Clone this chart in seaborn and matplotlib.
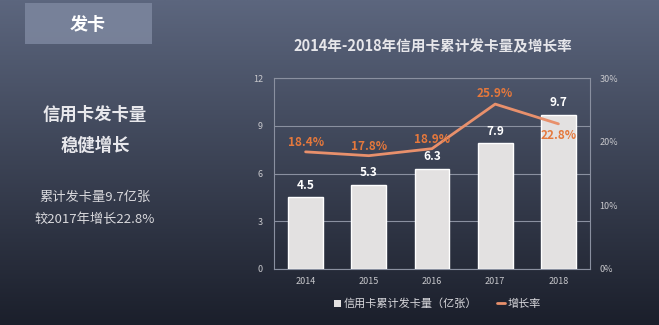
import numpy as np
import pandas as pd
import matplotlib
matplotlib.use("Agg")
import matplotlib.pyplot as plt
from matplotlib.patches import Rectangle
from matplotlib.lines import Line2D
from matplotlib.patches import Patch
import seaborn as sns

years = ["2014", "2015", "2016", "2017", "2018"]
cards = [4.5, 5.3, 6.3, 7.9, 9.7]
growth = [18.4, 17.8, 18.9, 25.9, 22.8]
left_ticks = [0, 3, 6, 9, 12]
right_ticks = [0, 10, 20, 30]

sns.set_theme(style="white")
plt.rcParams['font.family'] = ['Noto Sans CJK SC', 'DejaVu Sans']

W, H = 659, 325
fig = plt.figure(figsize=(W / 100, H / 100), dpi=100)

# background gradient
bg = fig.add_axes([0, 0, 1, 1])
top = np.array([0x5c, 0x66, 0x7e]) / 255
bot = np.array([0x1b, 0x1f, 0x2b]) / 255
t = np.linspace(0, 1, 200)[:, None]
grad = (top[None, :] * (1 - t) + bot[None, :] * t)
grad = np.repeat(grad[:, None, :], 2, axis=1)
bg.imshow(grad, aspect="auto", extent=[0, 1, 0, 1], origin="upper")
bg.set_xlim(0, 1)
bg.set_ylim(0, 1)
bg.axis("off")

# header box
bg.add_patch(Rectangle((25 / W, 1 - 44 / H), 127 / W, 41 / H,
                       facecolor="#7b859d", edgecolor="none", alpha=0.9))
bg.text(88 / W, 1 - 24 / H, "发卡", color="white", fontsize=13,
        fontweight="bold", ha="center", va="center")

# left text
bg.text(95 / W, 1 - 115 / H, "信用卡发卡量", color="#e8e8ec", fontsize=12.5,
        fontweight="bold", ha="center", va="center")
bg.text(95 / W, 1 - 146 / H, "稳健增长", color="#e8e8ec", fontsize=12.5,
        fontweight="bold", ha="center", va="center")
bg.text(95 / W, 1 - 197 / H, "累计发卡量9.7亿张", color="#d8d8dc", fontsize=9.5,
        ha="center", va="center")
bg.text(95 / W, 1 - 219 / H, "较2017年增长22.8%", color="#d8d8dc", fontsize=9.5,
        ha="center", va="center")

# chart title
bg.text(433 / W, 1 - 46 / H, "2014年-2018年信用卡累计发卡量及增长率", color="#e6e6ea",
        fontsize=10.5, fontweight="bold", ha="center", va="center")

df = pd.DataFrame({"year": years, "cards": cards, "growth": growth})

ax = fig.add_axes([274 / W, 1 - 269 / H, 316 / W, 191 / H])
ax.set_facecolor("none")
sns.barplot(data=df, x="year", y="cards", color="#e3e1e1", width=0.55,
            saturation=1, ax=ax, zorder=3)
ax.set_ylim(0, 12)
ax.set_xlim(-0.5, 4.5)
ax.set_yticks(left_ticks)
ax.set_yticklabels([str(v) for v in left_ticks])
ax.grid(axis="y", color="#8a90a0", linewidth=0.8, zorder=0)
ax.set_axisbelow(True)
for s in ax.spines.values():
    s.set_color("#8a90a0")
    s.set_linewidth(0.8)
ax.tick_params(axis="both", colors="#c8c8cc", labelsize=6.5, length=0, pad=8)
ax.tick_params(axis="x", pad=6)
ax.set_xlabel("")
ax.set_ylabel("")
for i, v in enumerate(cards):
    ax.text(i, v + 0.35, f"{v:.1f}", color="white", fontsize=8.5,
            fontweight="bold", ha="center", va="bottom", zorder=5)

ax2 = ax.twinx()
ax2.set_facecolor("none")
sns.lineplot(data=df, x="year", y="growth", color="#e8906c", linewidth=2,
             ax=ax2, zorder=4, sort=False)
ax2.set_ylim(0, 30)
ax2.set_yticks(right_ticks)
ax2.set_yticklabels([f"{v}%" for v in right_ticks])
ax2.tick_params(axis="y", colors="#c8c8cc", labelsize=6.5, length=0, pad=7)
ax2.set_ylabel("")
for s in ax2.spines.values():
    s.set_visible(False)
offsets = [1.5, 1.5, 1.5, 1.7, -1.9]
for i, (v, o) in enumerate(zip(growth, offsets)):
    ax2.text(i, v + o, f"{v}%", color="#e5783c", fontsize=8.5,
             fontweight="bold", ha="center", va="center", zorder=6)

handles = [Patch(facecolor="#e3e1e1", edgecolor="none", label="信用卡累计发卡量（亿张）"),
           Line2D([0], [0], color="#e8906c", linewidth=2, label="增长率")]
leg = fig.legend(handles=handles, loc="center", bbox_to_anchor=(437 / W, 1 - 304 / H),
                 ncol=2, frameon=False, fontsize=8, labelcolor="#d8d8dc",
                 handlelength=0.7, handletextpad=0.2, columnspacing=1.8)

fig.savefig("out.png", dpi=100)
